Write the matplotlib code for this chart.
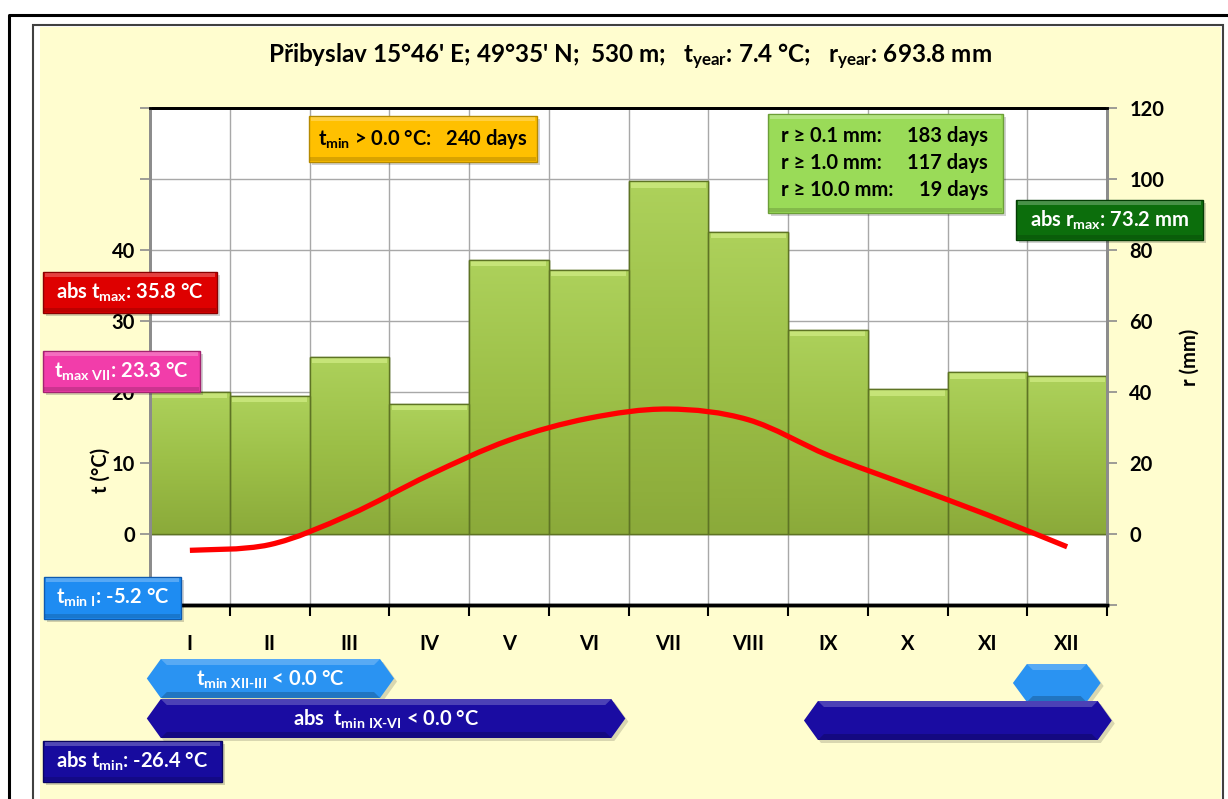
import matplotlib
matplotlib.use("Agg")
import matplotlib.pyplot as plt
from matplotlib.patches import Rectangle, Polygon, PathPatch
from matplotlib.path import Path
import numpy as np

plt.rcParams['font.family'] = ['Lato', 'DejaVu Sans']
plt.rcParams['font.weight'] = 'bold'
plt.rcParams['mathtext.fontset'] = 'custom'
plt.rcParams['mathtext.rm'] = 'Lato:bold'
plt.rcParams['mathtext.it'] = 'Lato:bold'
plt.rcParams['mathtext.bf'] = 'Lato:bold'

# dados
meses = ["I", "II", "III", "IV", "V", "VI", "VII", "VIII", "IX", "X", "XI", "XII"]
chuva = [40.0, 38.9, 50.0, 36.6, 77.2, 74.4, 99.4, 85.1, 57.5, 40.8, 45.6, 44.5]   # r (mm)
temp = [-2.3, -1.5, 2.7, 8.3, 13.2, 16.3, 17.6, 16.1, 11.1, 6.9, 2.7, -1.8]        # t (°C)
t_ticks = [-10, 0, 10, 20, 30, 40, 50, 60]
t_labels = ["", "0", "10", "20", "30", "40", "", ""]
r_ticks = [-20, 0, 20, 40, 60, 80, 100, 120]
r_labels = ["", "0", "20", "40", "60", "80", "100", "120"]
titulo = "Přibyslav 15°46' E; 49°35' N;  530 m;   $t_{year}$: 7.4 °C;   $r_{year}$: 693.8 mm"
dias_chuva = [("r ≥ 0.1 mm:", "183 days"), ("r ≥ 1.0 mm:", "117 days"), ("r ≥ 10.0 mm:", "19 days")]

W, H = 1228, 799
FS = 14.5
fig = plt.figure(figsize=(W / 100, H / 100), dpi=100)

def fx(px):
    return px / W

def fy(py):
    return 1 - py / H

def pts(lista):
    return [(fx(a), fy(b)) for a, b in lista]

# moldura
fig.add_artist(plt.Line2D([fx(9), fx(9), fx(1228)], [fy(799), fy(15), fy(15)], color="black", lw=2.2, zorder=-10))
fig.add_artist(Rectangle((fx(33), fy(805)), fx(1223) - fx(33), fy(25) - fy(805), transform=fig.transFigure,
                         facecolor="white", edgecolor="#404040", lw=1.5, zorder=-10))
fig.add_artist(Rectangle((fx(40), fy(805)), fx(1221) - fx(40), fy(27) - fy(805), transform=fig.transFigure,
                         facecolor="#FFFDCF", edgecolor="none", zorder=-9))

ax = fig.add_axes([fx(150), fy(605), (1107 - 150) / W, (605 - 108) / H])
ax2 = ax.twinx()
ax.set_zorder(ax2.get_zorder() + 1)
ax.patch.set_visible(False)
ax2.patch.set_visible(True)
ax2.patch.set_facecolor("white")

x = np.arange(12)
ax.set_xlim(-0.5, 11.5)
ax.set_ylim(-10, 60)
ax2.set_ylim(-20, 120)

# grade vertical (limites dos meses)
ax2.vlines(np.arange(0.5, 11.5, 1), -20, 120, color="#A8A8A8", lw=1.0, zorder=0.5)

# barras com gradiente
barras = ax2.bar(x, chuva, width=1.0, color="#A0C44C", edgecolor="#5E7424", lw=1.0, zorder=2)
grad = np.linspace(0, 1, 100).reshape(-1, 1)
cmap = matplotlib.colors.LinearSegmentedColormap.from_list("g", ["#8BAA3A", "#9CBF47", "#ADD15B"])
for b in barras:
    x0, w, h = b.get_x(), b.get_width(), b.get_height()
    im = ax2.imshow(grad, extent=[x0, x0 + w, 0, h], origin="lower", aspect="auto", cmap=cmap, zorder=2.1)
    im.set_clip_path(b)
    ax2.add_patch(Rectangle((x0 + 0.03, h - 1.8), w - 0.06, 1.6, facecolor="#CDEA80", edgecolor="none",
                            alpha=0.8, zorder=2.2))
    ax2.add_patch(Rectangle((x0, 0), w, h, facecolor="none", edgecolor="#5E7424", lw=1.0, zorder=2.3))
ax2.set_xlim(-0.5, 11.5)
ax2.set_ylim(-20, 120)

# linha suavizada (Bezier, como no Excel)
p = np.column_stack([x, temp]).astype(float)
pp = np.vstack([p[0], p, p[-1]])
verts = [tuple(p[0])]
codes = [Path.MOVETO]
for i in range(len(p) - 1):
    a, b0, c, d = pp[i], pp[i + 1], pp[i + 2], pp[i + 3]
    c1 = b0 + (c - a) / 6
    c2 = c - (d - b0) / 6
    verts += [tuple(c1), tuple(c2), tuple(c)]
    codes += [Path.CURVE4] * 3
ax.add_patch(PathPatch(Path(verts, codes), facecolor="none", edgecolor="#FF0000", lw=3.8,
                       capstyle="butt", zorder=5))

# eixos
ax2.set_yticks(r_ticks)
ax2.set_yticklabels(r_labels)
ax.set_xticks(np.arange(-0.5, 12, 1))
ax.set_xticklabels([])
ax.set_xticks(x, minor=True)
ax.set_xticklabels(meses, minor=True)
ax2.grid(True, axis="y", color="#A8A8A8", lw=1.0)
ax2.set_axisbelow(True)
ax.set_yticks(t_ticks)
ax.set_yticklabels(t_labels)

ax.tick_params(axis="y", direction="out", length=7, width=1.2, color="#8C8C8C", pad=4, labelsize=FS)
ax2.tick_params(axis="y", direction="out", length=7, width=1.2, color="#8C8C8C", pad=9, labelsize=FS)
ax.tick_params(axis="x", which="major", direction="out", length=8, width=1.5, color="black")
ax.tick_params(axis="x", which="minor", length=0, pad=21, labelsize=FS)
for a in (ax, ax2):
    a.spines["left"].set_color("#8C8C8C")
    a.spines["right"].set_color("#8C8C8C")
    a.spines["left"].set_linewidth(2)
    a.spines["right"].set_linewidth(2)
    a.spines["top"].set_linewidth(2)
    a.spines["bottom"].set_linewidth(2.5)

fig.text(fx(101), fy(470), "t (°C)", rotation=90, ha="center", va="center", fontsize=FS)
fig.text(fx(1190), fy(357), "r (mm)", rotation=90, ha="center", va="center", fontsize=FS)
fig.text(fx(630), fy(57), titulo, ha="center", va="center", fontsize=17.5)

# caixas
def caixa(x0, y0, x1, y1, cor, borda, texto=None, cor_txt="white", fs=FS, cx=None):
    fig.add_artist(Rectangle((fx(x0 + 3), fy(y1 + 3)), fx(x1) - fx(x0), fy(y0) - fy(y1),
                             transform=fig.transFigure, facecolor="#000000", alpha=0.18, edgecolor="none", zorder=10))
    fig.add_artist(Rectangle((fx(x0), fy(y1)), fx(x1) - fx(x0), fy(y0) - fy(y1), transform=fig.transFigure,
                             facecolor=cor, edgecolor=borda, lw=1.0, zorder=10))
    fig.add_artist(Rectangle((fx(x0 + 2), fy(y0 + 5)), fx(x1 - 2) - fx(x0 + 2), fy(y0 + 1) - fy(y0 + 5),
                             transform=fig.transFigure, facecolor="white", alpha=0.25, edgecolor="none", zorder=10))
    fig.add_artist(Rectangle((fx(x0 + 1), fy(y1 - 1)), fx(x1 - 1) - fx(x0 + 1), fy(y1 - 5) - fy(y1 - 1),
                             transform=fig.transFigure, facecolor="black", alpha=0.15, edgecolor="none", zorder=10))
    if texto:
        xc = (x0 + x1) / 2 if cx is None else cx
        fig.text(fx(xc), fy((y0 + y1) / 2), texto, ha="center", va="center", color=cor_txt, fontsize=fs, zorder=11)

def hexagono(xd0, xd1, y0, y1, cor, texto=None, cx=None):
    px0 = ax.transData.transform((xd0, 0))[0]
    px1 = ax.transData.transform((xd1, 0))[0]
    ym = (y0 + y1) / 2
    bv = 14
    contorno = [(px0, ym), (px0 + bv, y0), (px1 - bv, y0), (px1, ym), (px1 - bv, y1), (px0 + bv, y1)]
    fig.add_artist(Polygon(pts([(a + 3, b + 3) for a, b in contorno]), closed=True, transform=fig.transFigure,
                           facecolor="black", alpha=0.15, edgecolor="none", zorder=10))
    fig.add_artist(Polygon(pts(contorno), closed=True, transform=fig.transFigure,
                           facecolor=cor, edgecolor="none", zorder=10))
    fig.add_artist(Polygon(pts([(px0 + bv, y0), (px1 - bv, y0), (px1 - bv - 6, y0 + 6), (px0 + bv + 6, y0 + 6)]),
                           closed=True, transform=fig.transFigure, facecolor="white", alpha=0.22, edgecolor="none",
                           zorder=10))
    fig.add_artist(Polygon(pts([(px0 + bv, y1), (px1 - bv, y1), (px1 - bv - 6, y1 - 6), (px0 + bv + 6, y1 - 6)]),
                           closed=True, transform=fig.transFigure, facecolor="black", alpha=0.2, edgecolor="none",
                           zorder=10))
    if texto:
        xc = (px0 + px1) / 2 if cx is None else cx
        fig.text(fx(xc), fy(ym + 1), texto, ha="center", va="center", color="white", fontsize=FS, zorder=11)

fig.canvas.draw()

hexagono(-0.54, 2.56, 659, 698, "#2A93F2", r"$t_{\mathrm{min\ XII\text{-}III}}$ < 0.0 °C", cx=270)
hexagono(-0.54, 5.46, 699, 738, "#1A0CA2", r"abs  $t_{\mathrm{min\ IX\text{-}VI}}$ < 0.0 °C", cx=386)
hexagono(10.32, 11.42, 664, 702, "#2A93F2")
hexagono(7.70, 11.56, 701, 740, "#1A0CA2")

caixa(309, 116, 537, 162, "#FFC000", "#B58A00", r"$t_{min}$ > 0.0 °C:   240 days", cor_txt="black")
caixa(768, 114, 1003, 213, "#9ADB58", "#6C9E38")
for i, (esq, dir_) in enumerate(dias_chuva):
    yy = 136 + i * 27
    fig.text(fx(781), fy(yy), esq, ha="left", va="center", fontsize=FS, zorder=11)
    fig.text(fx(988), fy(yy), dir_, ha="right", va="center", fontsize=FS, zorder=11)
caixa(1016, 200, 1203, 240, "#0C6E0C", "#043D04", r"abs $r_{max}$: 73.2 mm")
caixa(43, 272, 217, 313, "#DE0000", "#8A0000", r"abs $t_{max}$: 35.8 °C")
caixa(43, 351, 200, 392, "#F23DAA", "#A3236F", r"$t_{max\ VII}$: 23.3 °C")
caixa(44, 577, 181, 619, "#1E8CF2", "#0E5BB0", r"$t_{min\ I}$: -5.2 °C")
caixa(43, 741, 222, 782, "#170B9E", "#0A0560", r"abs $t_{min}$: -26.4 °C")

fig.savefig("out.png", dpi=100)
